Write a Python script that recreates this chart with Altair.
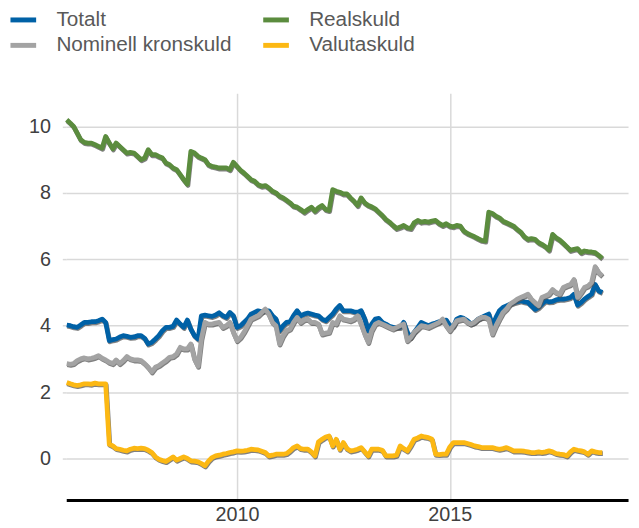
import altair as alt
import pandas as pd

# Series names (legend order: filled column by column, 2 columns)
series_names = ["Totalt", "Nominell kronskuld", "Realskuld", "Valutaskuld"]
series_colors = ["#0061A6", "#A3A3A3", "#5B8C3E", "#FCB813"]
draw_order = ["Totalt", "Nominell kronskuld", "Realskuld", "Valutaskuld"]

start_month = "2006-01-01"

totalt = (
    [4.02, 4.00, 3.97, 3.95, 4.02, 4.10, 4.10, 4.12, 4.12, 4.15, 4.20, 4.10]
    + [3.55, 3.58, 3.60, 3.66, 3.70, 3.68, 3.65, 3.66, 3.70, 3.70, 3.62, 3.45]
    + [3.50, 3.60, 3.70, 3.85, 3.95, 3.95, 3.98, 4.17, 4.05, 3.95, 4.17, 3.90]
    + [3.70, 3.60, 4.30, 4.32, 4.30, 4.28, 4.32, 4.39, 4.30, 4.25, 4.40, 4.30]
    + [3.95, 4.00, 4.10, 4.20, 4.35, 4.40, 4.45, 4.42, 4.45, 4.45, 4.30, 4.20]
    + [3.85, 4.00, 4.10, 4.12, 4.30, 4.45, 4.30, 4.35, 4.38, 4.35, 4.32, 4.30]
    + [4.20, 4.15, 4.25, 4.35, 4.50, 4.61, 4.45, 4.45, 4.45, 4.42, 4.40, 4.45]
    + [4.20, 3.85, 4.05, 4.20, 4.22, 4.10, 4.05, 3.98, 3.95, 3.95, 3.95, 4.10]
    + [3.80, 3.65, 3.80, 3.95, 4.10, 4.05, 4.00, 4.05, 4.08, 4.12, 4.15, 4.17]
    + [4.00, 3.98, 4.20, 4.25, 4.22, 4.15, 4.05, 4.10, 4.20, 4.25, 4.30, 4.35]
    + [4.00, 4.25, 4.45, 4.55, 4.60, 4.65, 4.69, 4.72, 4.75, 4.72, 4.70, 4.60]
    + [4.49, 4.55, 4.65, 4.75, 4.72, 4.73, 4.78, 4.80, 4.80, 4.82, 4.85, 4.95]
    + [4.62, 4.70, 4.80, 4.88, 4.95, 5.24, 5.05, 5.00]
)

nominell = (
    [2.86, 2.84, 2.86, 2.95, 3.00, 3.03, 3.00, 3.02, 3.05, 3.10, 3.02, 2.97]
    + [2.90, 2.86, 2.97, 2.86, 2.95, 3.07, 3.00, 2.97, 2.97, 2.95, 2.86, 2.75]
    + [2.61, 2.75, 2.80, 2.88, 2.95, 3.05, 3.07, 3.15, 3.35, 3.30, 3.30, 3.45]
    + [3.00, 2.78, 3.60, 4.10, 4.05, 4.05, 4.08, 4.10, 3.95, 4.00, 4.10, 3.80]
    + [3.55, 3.65, 3.80, 4.00, 4.20, 4.25, 4.30, 4.40, 4.50, 4.35, 4.10, 4.00]
    + [3.45, 3.70, 3.85, 3.90, 4.10, 4.25, 4.10, 4.18, 4.20, 4.10, 4.10, 4.05]
    + [3.75, 3.78, 3.80, 4.10, 4.05, 4.30, 4.20, 4.18, 4.15, 4.20, 4.30, 4.05]
    + [3.75, 3.50, 3.85, 4.05, 4.10, 4.05, 4.00, 3.95, 3.90, 3.95, 4.00, 4.05]
    + [3.55, 3.65, 3.80, 3.90, 4.00, 3.98, 3.95, 4.00, 4.05, 4.10, 4.20, 4.00]
    + [3.85, 4.00, 4.15, 4.18, 4.20, 4.10, 4.05, 4.10, 4.20, 4.25, 4.25, 4.20]
    + [3.75, 4.00, 4.20, 4.40, 4.50, 4.65, 4.72, 4.80, 4.85, 4.90, 4.95, 4.80]
    + [4.70, 4.60, 4.85, 4.90, 4.95, 5.09, 5.00, 4.95, 5.15, 5.20, 5.24, 5.39]
    + [4.85, 5.00, 5.15, 5.20, 5.30, 5.78, 5.60, 5.50]
)

realskuld = (
    [10.20, 10.10, 10.00, 9.80, 9.60, 9.52, 9.50, 9.50, 9.45, 9.40, 9.35, 9.70]
    + [9.50, 9.33, 9.50, 9.40, 9.30, 9.20, 9.22, 9.20, 9.10, 9.00, 9.05, 9.30]
    + [9.15, 9.15, 9.10, 9.05, 8.90, 8.85, 8.75, 8.70, 8.55, 8.40, 8.26, 9.25]
    + [9.20, 9.10, 9.05, 9.00, 8.85, 8.80, 8.78, 8.75, 8.75, 8.75, 8.70, 8.92]
    + [8.80, 8.68, 8.60, 8.50, 8.40, 8.35, 8.25, 8.20, 8.22, 8.15, 8.05, 8.00]
    + [7.90, 7.85, 7.78, 7.70, 7.60, 7.57, 7.50, 7.42, 7.50, 7.57, 7.45, 7.55]
    + [7.62, 7.50, 7.47, 8.10, 8.05, 8.02, 7.97, 7.97, 7.85, 7.75, 7.62, 7.85]
    + [7.70, 7.62, 7.58, 7.52, 7.42, 7.32, 7.20, 7.12, 7.02, 6.93, 6.97, 7.02]
    + [6.95, 6.93, 7.10, 7.17, 7.12, 7.14, 7.12, 7.15, 7.17, 7.08, 7.02, 7.07]
    + [7.00, 6.98, 7.02, 7.00, 6.85, 6.78, 6.73, 6.68, 6.62, 6.57, 6.55, 7.42]
    + [7.38, 7.30, 7.25, 7.15, 7.10, 7.05, 7.00, 6.90, 6.82, 6.68, 6.60, 6.62]
    + [6.60, 6.50, 6.45, 6.38, 6.28, 6.75, 6.65, 6.58, 6.48, 6.38, 6.27, 6.30]
    + [6.32, 6.20, 6.25, 6.23, 6.22, 6.20, 6.12, 6.03]
)

valutaskuld = (
    [2.29, 2.25, 2.22, 2.20, 2.22, 2.25, 2.25, 2.24, 2.27, 2.25, 2.25, 2.25]
    + [0.43, 0.38, 0.30, 0.28, 0.25, 0.23, 0.28, 0.31, 0.30, 0.31, 0.30, 0.25]
    + [0.18, 0.05, -0.02, -0.06, -0.09, -0.02, 0.05, -0.05, 0.00, 0.05, 0.00, -0.07]
    + [-0.08, -0.10, -0.15, -0.22, -0.08, 0.03, 0.08, 0.10, 0.13, 0.15, 0.18, 0.20]
    + [0.23, 0.22, 0.23, 0.25, 0.28, 0.27, 0.26, 0.22, 0.18, 0.08, 0.10, 0.13]
    + [0.13, 0.13, 0.15, 0.23, 0.33, 0.38, 0.30, 0.28, 0.28, 0.20, 0.08, 0.50]
    + [0.58, 0.65, 0.68, 0.38, 0.58, 0.28, 0.48, 0.30, 0.23, 0.25, 0.28, 0.33]
    + [0.20, 0.08, 0.28, 0.28, 0.28, 0.25, 0.08, 0.08, 0.08, 0.10, 0.38, 0.30]
    + [0.23, 0.40, 0.58, 0.62, 0.68, 0.65, 0.63, 0.58, 0.13, 0.12, 0.13, 0.13]
    + [0.35, 0.48, 0.48, 0.48, 0.48, 0.45, 0.42, 0.38, 0.36, 0.33, 0.33, 0.33]
    + [0.33, 0.30, 0.28, 0.30, 0.33, 0.28, 0.23, 0.23, 0.23, 0.22, 0.20, 0.18]
    + [0.18, 0.20, 0.18, 0.20, 0.23, 0.20, 0.15, 0.13, 0.12, 0.08, 0.20, 0.28]
    + [0.25, 0.23, 0.20, 0.13, 0.23, 0.20, 0.18, 0.18]
)

y_ticks = [0, 2, 4, 6, 8, 10]

values_by_name = {
    "Totalt": totalt,
    "Nominell kronskuld": nominell,
    "Realskuld": realskuld,
    "Valutaskuld": valutaskuld,
}

frames = []
for name, vals in values_by_name.items():
    dates = pd.date_range(start_month, periods=len(vals), freq="MS")
    frames.append(pd.DataFrame({"date": dates, "value": vals, "serie": name}))
df = pd.concat(frames, ignore_index=True)

FONT = "Liberation Sans"

x_enc = alt.X(
    "date:T",
    title=None,
    scale=alt.Scale(
        domain=[
            alt.DateTime(year=2005, month=12, date=28),
            alt.DateTime(year=2019, month=3, date=10),
        ]
    ),
    axis=alt.Axis(
        values=[
            alt.DateTime(year=2010, month=1, date=1),
            alt.DateTime(year=2015, month=1, date=1),
        ],
        format="%Y",
        labelFontSize=20,
        labelFont=FONT,
        labelColor="#404040",
        labelPadding=5,
        ticks=False,
        domain=True,
        domainColor="#000000",
        domainWidth=3,
        grid=True,
        gridColor="#d9d9d9",
        gridWidth=1.5,
        labelFlush=False,
    ),
)
y_enc = alt.Y(
    "value:Q",
    title=None,
    scale=alt.Scale(domain=[-1.25, 11.0], nice=False, zero=False),
    axis=alt.Axis(
        values=y_ticks,
        labelFontSize=20,
        labelFont=FONT,
        labelColor="#404040",
        labelPadding=12,
        ticks=True,
        tickColor="#d9d9d9",
        tickSize=4,
        tickWidth=1.5,
        domain=False,
        grid=True,
        gridColor="#d9d9d9",
        gridWidth=1.5,
    ),
)

color_enc = alt.Color(
    "serie:N",
    scale=alt.Scale(domain=series_names, range=series_colors),
    legend=alt.Legend(
        title=None,
        orient="none",
        legendX=-59,
        legendY=-90,
        columns=2,
        symbolType="stroke",
        symbolStrokeWidth=5,
        symbolSize=676,
        labelFontSize=21,
        labelFont=FONT,
        labelColor="#595959",
        labelLimit=400,
        labelOffset=18,
        columnPadding=21,
        rowPadding=0,
        padding=0,
    ),
)

layers = []
for name in draw_order:
    base = alt.Chart(df).transform_filter(alt.datum.serie == name)
    shadow = base.mark_line(
        strokeWidth=4.8, color="#555555", opacity=0.75, yOffset=1.2, xOffset=0.6,
        strokeJoin="round",
    ).encode(x=x_enc, y=y_enc, detail="serie:N")
    line = base.mark_line(strokeWidth=4.8, strokeJoin="round").encode(
        x=x_enc, y=y_enc, color=color_enc
    )
    layers += [shadow, line]

chart = (
    alt.layer(*layers)
    .properties(
        width=569,
        height=412,
        autosize=alt.AutoSizeParams(type="none"),
        padding={"left": 59, "top": 83, "right": 3, "bottom": 26},
    )
    .configure_view(strokeWidth=0)
)

chart.save("out.html", embed_options={"renderer": "svg", "actions": False})
